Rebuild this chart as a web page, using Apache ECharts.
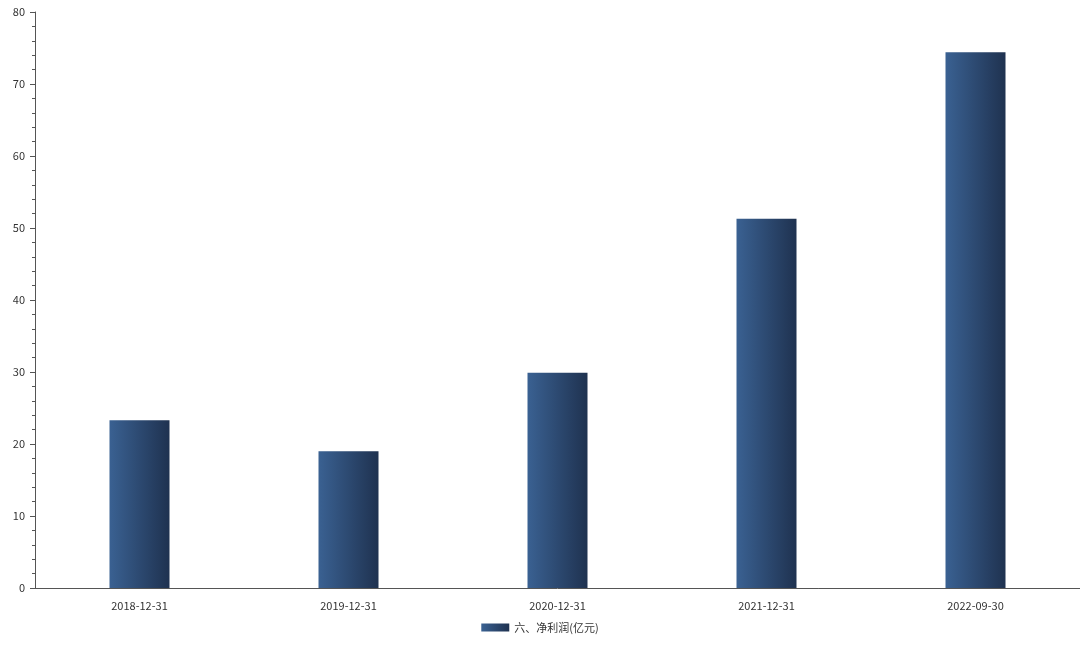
<!DOCTYPE html>
<html>
<head>
<meta charset="utf-8">
<script src="https://cdn.jsdelivr.net/npm/echarts@6/dist/echarts.min.js"></script>
<style>html,body{margin:0;padding:0;background:#fff}#chart{width:1080px;height:648px}</style>
</head>
<body>
<div id="chart"></div>
<script>
const categories = ['2018-12-31', '2019-12-31', '2020-12-31', '2021-12-31', '2022-09-30'];
const netProfit = [23.3, 19.0, 29.9, 51.3, 74.4];
const seriesName = '六、净利润(亿元)';

const chart = echarts.init(document.getElementById('chart'));
const barColor = new echarts.graphic.LinearGradient(0, 0, 1, 0, [
  { offset: 0, color: '#3a6192' },
  { offset: 1, color: '#1f3250' }
]);
chart.setOption({
  animation: false,
  textStyle: { fontFamily: 'Noto Sans CJK SC, sans-serif' },
  grid: { left: 35, right: 0, top: 12, bottom: 60 },
  legend: {
    bottom: 10,
    itemWidth: 28,
    itemHeight: 8,
    itemGap: 10,
    textStyle: { color: '#333', fontSize: 11 },
    data: [{ name: seriesName, icon: 'rect' }]
  },
  xAxis: {
    type: 'category',
    data: categories,
    axisLine: { lineStyle: { color: '#555' } },
    axisTick: { alignWithLabel: true, lineStyle: { color: '#555' } },
    axisLabel: { color: '#333', fontSize: 11, margin: 12 }
  },
  yAxis: {
    type: 'value',
    min: 0,
    max: 80,
    interval: 10,
    splitLine: { show: false },
    axisLine: { show: true, lineStyle: { color: '#555' } },
    axisTick: { show: true, lineStyle: { color: '#555' } },
    minorTick: { show: true, splitNumber: 5, length: 3, lineStyle: { color: '#555' } },
    axisLabel: { color: '#333', fontSize: 11, margin: 10 }
  },
  series: [{
    name: seriesName,
    type: 'bar',
    data: netProfit,
    barWidth: 60,
    itemStyle: { color: barColor }
  }]
});
</script>
</body>
</html>
